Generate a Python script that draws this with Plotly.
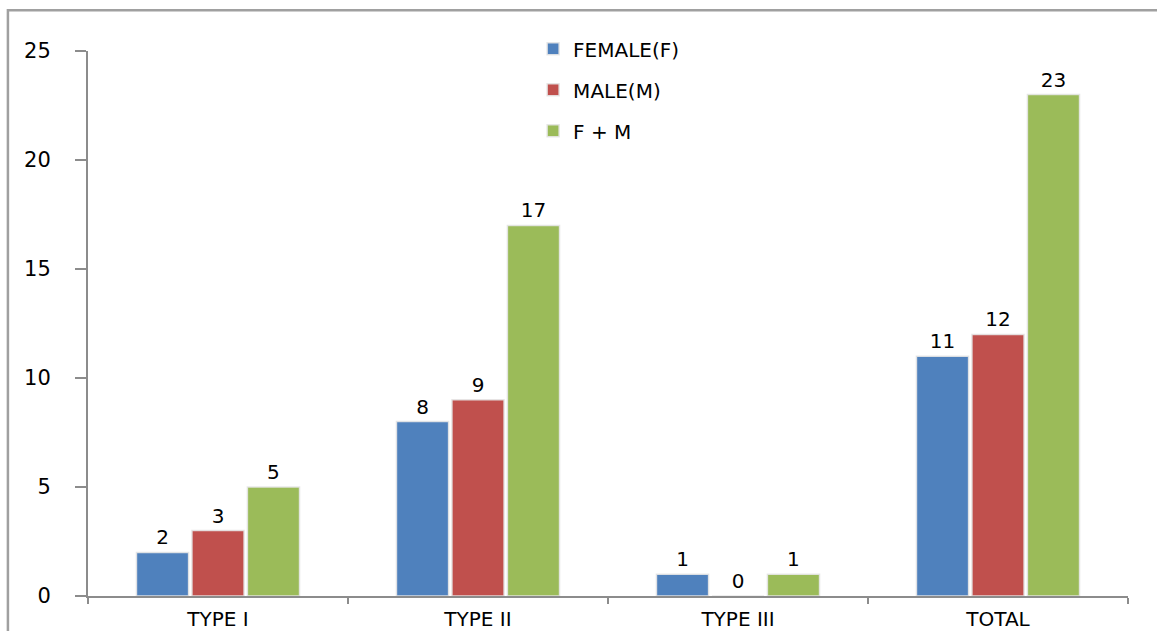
import plotly.graph_objects as go

categories = ["TYPE I", "TYPE II", "TYPE III", "TOTAL"]
female = [2, 8, 1, 11]
male = [3, 9, 0, 12]
combined = [5, 17, 1, 23]

series = [
    ("FEMALE(F)", female, "#4F81BD"),
    ("MALE(M)", male, "#C0504D"),
    ("F + M", combined, "#9BBB59"),
]

FONT = "DejaVu Sans"
AXIS = "#8c8c8c"
FS = 20

fig = go.Figure()
for i, (name, vals, color) in enumerate(series):
    fig.add_trace(go.Bar(
        x=categories, y=vals, name=name,
        marker=dict(color=color, line=dict(color="rgba(230,230,230,0.9)", width=1.5)),
        text=[str(v) for v in vals], textposition="outside",
        textfont=dict(family=FONT, size=FS, color="black"),
        cliponaxis=False, legendgroup=f"g{i}",
    ))

fig.update_layout(
    width=1157, height=631,
    margin=dict(l=88, r=29, t=51, b=35),
    paper_bgcolor="white", plot_bgcolor="white",
    barmode="group", bargap=0.36, bargroupgap=0.06,
    font=dict(family=FONT, size=FS, color="black"),
    showlegend=True,
    legend=dict(x=0.428, y=1.04, xanchor="left", yanchor="top",
                font=dict(family=FONT, size=FS, color="black"),
                tracegroupgap=12, bgcolor="rgba(0,0,0,0)"),
    xaxis=dict(showline=True, linecolor=AXIS, linewidth=2,
               ticks="outside", tickson="boundaries", ticklen=6,
               tickcolor=AXIS, tickwidth=2, showgrid=False, automargin=False,
               ticklabelstandoff=4,
               tickfont=dict(family=FONT, size=FS)),
    yaxis=dict(range=[0, 25], dtick=5, showline=True, linecolor=AXIS, linewidth=2,
               ticks="outside", ticklen=11, tickcolor=AXIS, tickwidth=2,
               showgrid=False, zeroline=False, ticklabelstandoff=20, automargin=False,
               tickfont=dict(family=FONT, size=21)),
    shapes=[dict(type="rect", xref="paper", yref="paper",
                 x0=-0.077, x1=1.2, y0=-0.3, y1=1.075,
                 line=dict(color="#a0a0a0", width=2.5), layer="below")],
)

fig.write_html("out.html")
